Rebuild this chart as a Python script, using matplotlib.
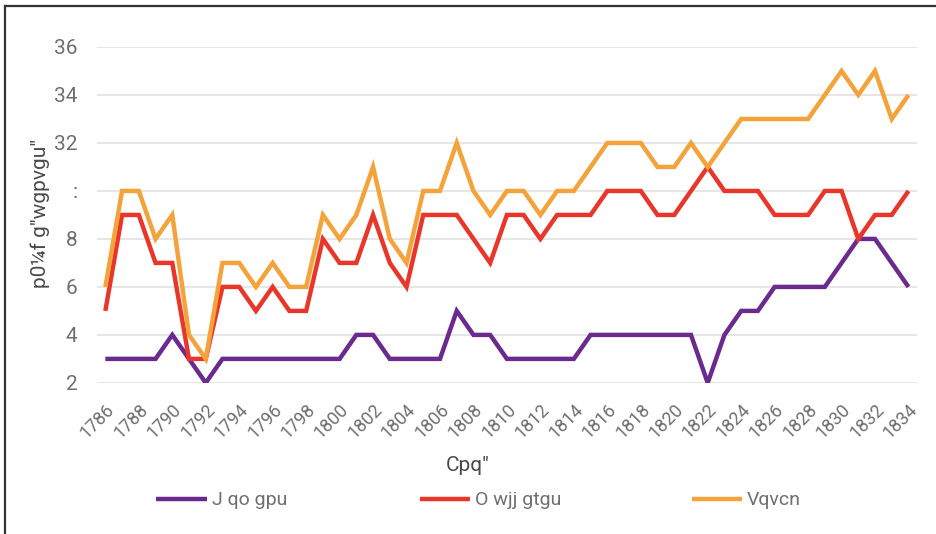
import matplotlib
matplotlib.use("Agg")
import matplotlib.pyplot as plt
from matplotlib.lines import Line2D

# ---- data ----
years = list(range(1786, 1835))
men = [1, 1, 1, 1, 2, 1, 0, 1, 1, 1, 1, 1, 1, 1, 1, 2, 2, 1, 1, 1, 1, 3, 2, 2,
       1, 1, 1, 1, 1, 2, 2, 2, 2, 2, 2, 2, 0, 2, 3, 3, 4, 4, 4, 4, 5, 6, 6, 5, 4]
women = [3, 7, 7, 5, 5, 1, 1, 4, 4, 3, 4, 3, 3, 6, 5, 5, 7, 5, 4, 7, 7, 7, 6, 5,
         7, 7, 6, 7, 7, 7, 8, 8, 8, 7, 7, 8, 9, 8, 8, 8, 7, 7, 7, 8, 8, 6, 7, 7, 8]
total = [4, 8, 8, 6, 7, 2, 1, 5, 5, 4, 5, 4, 4, 7, 6, 7, 9, 6, 5, 8, 8, 10, 8, 7,
         8, 8, 7, 8, 8, 9, 10, 10, 10, 9, 9, 10, 9, 10, 11, 11, 11, 11, 11, 12, 13, 12, 13, 11, 12]

series_names = ["J qo gpu", "O wjj gtgu", "Vqvcn"]
series_colors = ["#6b2a8e", "#e8372a", "#f4a23a"]

y_ticks = [0, 2, 4, 6, 8, 10, 12, 14]
y_ticklabels = ["2", "4", "6", "8", ":", "32", "34", "36"]
x_ticks = years[::2]

x_title = 'Cpq"'
y_title = 'p0\u00bcf g"wgpvgu"'

FONT = ["Liberation Sans Narrow", "Roboto", "DejaVu Sans"]
GREY = "#6f6f6f"

# ---- figure ----
fig = plt.figure(figsize=(9.37, 5.34), dpi=100)
ax = fig.add_axes([0.1035, 0.283, 0.875, 0.629])

lines = []
for vals, name, col in zip([men, women, total], series_names, series_colors):
    ln, = ax.plot(years, vals, color=col, lw=3.2, label=name,
                  solid_joinstyle="miter", solid_capstyle="butt")
    lines.append(ln)

ax.set_xlim(1785.5, 1834.5)
ax.set_ylim(0, 14)
ax.set_yticks(y_ticks)
ax.set_yticklabels(y_ticklabels, family=FONT, fontsize=15, color=GREY)
ax.set_xticks(x_ticks)
ax.set_xticklabels([str(y) for y in x_ticks], family=FONT, fontsize=13,
                   color=GREY, rotation=45, ha="right", va="top",
                   rotation_mode="anchor")
ax.tick_params(axis="both", length=0)
ax.tick_params(axis="y", pad=14)
ax.tick_params(axis="x", pad=13)

ax.grid(axis="y", color="#e2e2e2", lw=1.2)
ax.set_axisbelow(True)
for s in ax.spines.values():
    s.set_visible(False)

fig.text(0.499, 0.129, x_title, family=FONT, fontsize=15, color="#4a4a4a",
         ha="center", va="center")
fig.text(0.043, 0.6, y_title, family=FONT, fontsize=15, color="#4a4a4a",
         ha="center", va="center", rotation=90)

# legend, one entry per slot
leg_x = [0.167, 0.448, 0.738]
for ln, x in zip(lines, leg_x):
    lg = fig.legend(handles=[ln], loc="center left", bbox_to_anchor=(x, 0.063),
                    frameon=False, handlelength=2.6, handletextpad=0.25,
                    borderpad=0, borderaxespad=0,
                    prop={"family": FONT, "size": 14})
    for t in lg.get_texts():
        t.set_color(GREY)

# frame edges of the original screenshot (top and left only)
fig.add_artist(Line2D([0.0055, 1.0], [0.988, 0.988], color="#333333", lw=1.6,
                      transform=fig.transFigure))
fig.add_artist(Line2D([0.0055, 0.0055], [0.0, 0.988], color="#333333", lw=1.6,
                      transform=fig.transFigure))

fig.savefig("out.png", dpi=100)
